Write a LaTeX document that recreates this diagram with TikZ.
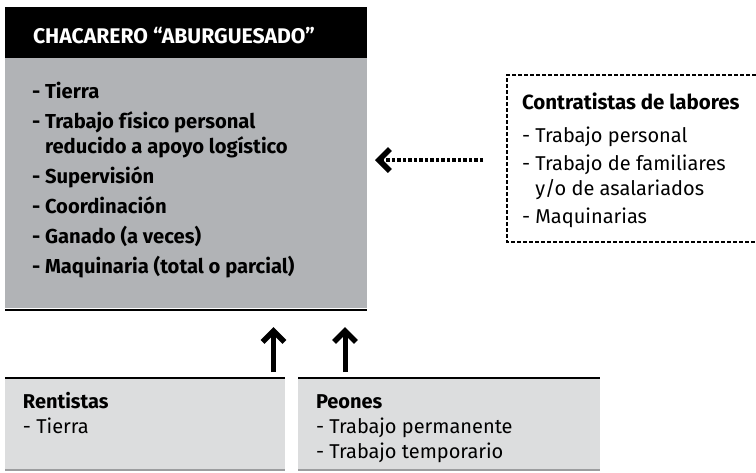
\documentclass[tikz,border=0pt]{standalone}
\usepackage{fontspec}
\setmainfont{Fira Sans}
\usetikzlibrary{arrows.meta}
\definecolor{maingray}{HTML}{B1B3B6}
\definecolor{lightbox}{HTML}{DCDDDE}
\definecolor{edgegray}{HTML}{9C9D9F}
\begin{document}
\begin{tikzpicture}[x=1pt,y=-1pt,
  every node/.style={inner sep=0pt, outer sep=0pt},
  listtxt/.style={font=\fontsize{20}{25}\selectfont, align=left, anchor=base west},
  boldlist/.style={listtxt, font=\bfseries\fontsize{20.2}{25}\selectfont},
  lowbox/.style={fill=lightbox, minimum height=93pt, anchor=north west},
  uparrow/.style={line width=5pt, -{Straight Barb[length=11pt,width=22pt,line width=5.5pt]}},
  leftarrow/.style={line width=4pt, dash pattern=on 3.5pt off 2pt, -{Straight Barb[length=11pt,width=22pt,line width=5.5pt]}}
]
\useasboundingbox (0,0) rectangle (756,472);

% main box
\node[fill=black, minimum width=362pt, minimum height=51pt, anchor=north west] (head) at (5,7) {};
\node[anchor=west, text=white, font=\bfseries\fontsize{21.2}{24}\selectfont] (headtxt) at (33,35.3) {CHACARERO “ABURGUESADO”};
\node[fill=maingray, minimum width=362pt, minimum height=250pt, anchor=north west] (body) at (5,58) {};
\draw[line width=2pt] ([yshift=-1.5pt]body.south west) -- ([yshift=-1.5pt]body.south east);
\node[boldlist] (bodytxt) at (32,273) {- Tierra\\[5pt]
- Trabajo físico personal\\
\phantom{- }reducido a apoyo logístico\\[5pt]
- Supervisión\\[5pt]
- Coordinación\\[5pt]
- Ganado (a veces)\\[5pt]
- Maquinaria (total o parcial)};

% contratistas
\node[minimum width=249pt, minimum height=167pt, anchor=north west] (contr) at (507,75) {};
\draw[line width=2.4pt, dash pattern=on 4pt off 2pt] (contr.north east) -- (contr.north west) -- (contr.south west) -- (contr.south east);
\node[listtxt] (contrtxt) at (522,223.5) {\textbf{\fontsize{20.5}{25}\selectfont Contratistas de labores}\\[8pt]
- Trabajo personal\\[3pt]
- Trabajo de familiares\\
\phantom{- }y/o de asalariados\\[3pt]
- Maquinarias};
\draw[leftarrow, shorten >=8pt, shorten <=24pt] (contr.west |- 0,160) -- (body.east |- 0,160);

% lower boxes
\node[lowbox, minimum width=280pt] (rent) at (5,378) {};
\node[lowbox, minimum width=302pt] (peon) at (298,378) {};
\foreach \b in {rent,peon}{
  \draw[line width=2.6pt] (\b.north west) -- (\b.north east);
  \draw[line width=2pt, edgegray] ([yshift=1pt]\b.south west) -- ([yshift=1pt]\b.south east);
}
\node[listtxt] (renttxt) at (23,433.5) {\textbf{Rentistas}\\- Tierra};
\node[listtxt] (peontxt) at (316,458.5) {\textbf{Peones}\\- Trabajo permanente\\- Trabajo temporario};

% up arrows
\draw[uparrow, shorten >=19pt, shorten <=6pt] ([xshift=-11.5pt]rent.north east) -- ([xshift=-11.5pt]rent.north east |- body.south);
\draw[uparrow, shorten >=19pt, shorten <=6pt] ([xshift=47pt]peon.north west) -- ([xshift=47pt]peon.north west |- body.south);
\end{tikzpicture}
\end{document}
